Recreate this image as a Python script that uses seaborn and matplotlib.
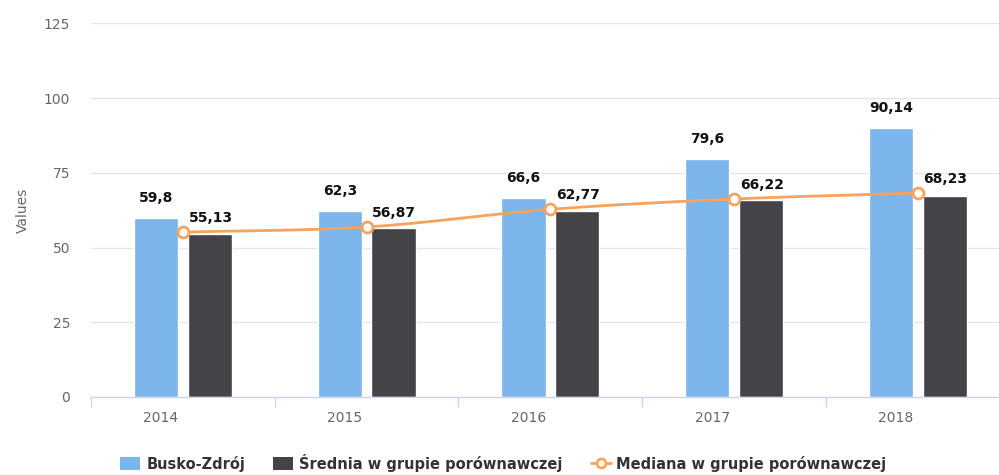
import numpy as np
import pandas as pd
import seaborn as sns
import matplotlib
matplotlib.use("Agg")
import matplotlib.pyplot as plt
from matplotlib.patches import Patch
from matplotlib.lines import Line2D

# ---- data ----
years = ["2014", "2015", "2016", "2017", "2018"]
busko = [59.8, 62.3, 66.6, 79.6, 90.14]
srednia = [54.6, 56.4, 62.1, 65.8, 67.4]
mediana = [55.13, 56.87, 62.77, 66.22, 68.23]
series_names = ["Busko-Zdrój", "Średnia w grupie porównawczej", "Mediana w grupie porównawczej"]
yticks = [0, 25, 50, 75, 100, 125]
y_title = "Values"

C_BLUE = "#7cb5ec"
C_DARK = "#434348"
C_ORANGE = "#f7a35c"

sns.set_theme(style="white")
plt.rcParams["font.family"] = ["DejaVu Sans"]

fig = plt.figure(figsize=(9.99, 4.75), dpi=100)
ax = fig.add_axes([91 / 999, 78 / 475, 908 / 999, 373.7 / 475])

df = pd.DataFrame({
    "year": years * 2,
    "value": busko + srednia,
    "series": [series_names[0]] * len(years) + [series_names[1]] * len(years),
})
sns.barplot(data=df, x="year", y="value", hue="series", palette=[C_BLUE, C_DARK],
            width=0.584, gap=0.178, saturation=1, errorbar=None, legend=False,
            ax=ax, zorder=2)

# smooth (spline-like) median line
xp = np.arange(len(mediana), dtype=float)
yp = np.array(mediana, dtype=float)
m = np.zeros_like(yp)
m[1:-1] = (yp[2:] - yp[:-2]) / 2.0
m[0] = yp[1] - yp[0]
m[-1] = yp[-1] - yp[-2]
xs_all, ys_all = [], []
for i in range(len(xp) - 1):
    t = np.linspace(0, 1, 30)
    h00 = 2 * t**3 - 3 * t**2 + 1
    h10 = t**3 - 2 * t**2 + t
    h01 = -2 * t**3 + 3 * t**2
    h11 = t**3 - t**2
    xs_all.append(xp[i] + t)
    ys_all.append(h00 * yp[i] + h10 * m[i] + h01 * yp[i + 1] + h11 * m[i + 1])
ax.plot(np.concatenate(xs_all), np.concatenate(ys_all), color=C_ORANGE, lw=2, zorder=4)
sns.scatterplot(x=xp, y=yp, ax=ax, marker="o", s=62, facecolor="white",
                edgecolor=C_ORANGE, linewidth=2, zorder=5)

# data labels
fmt = lambda v: str(v).replace(".", ",")
for i, v in enumerate(busko):
    ax.annotate(fmt(v), xy=(i - 0.146, v), xytext=(0, 11.5), textcoords="offset points",
                ha="center", va="baseline", fontsize=10, fontweight="bold", color="#111111", zorder=6)
for i, v in enumerate(mediana):
    ax.annotate(fmt(v), xy=(i, v), xytext=(4, 7.5), textcoords="offset points",
                ha="left", va="baseline", fontsize=10, fontweight="bold", color="#111111", zorder=6)

# axes styling
ax.set_xlim(-0.5, -0.5 + 908 / 183.75)
ax.set_ylim(0, 125)
ax.set_yticks(yticks)
ax.set_yticklabels([str(t) for t in yticks])
ax.tick_params(axis="y", length=0, pad=15, labelsize=10, labelcolor="#666666")
ax.yaxis.grid(True, color="#e6e6e6", lw=1)
ax.xaxis.grid(False)
ax.set_axisbelow(True)

ax.set_xticks([i - 0.12 for i in range(len(years))])
ax.set_xticklabels(years)
ax.set_xticks([i + 0.5 for i in range(-1, len(years) - 1)], minor=True)
ax.tick_params(axis="x", which="major", length=0, pad=10, labelsize=10, labelcolor="#666666")
ax.tick_params(axis="x", which="minor", length=7.2, width=1, color="#ccd6eb", bottom=True)
ax.set_xlabel("")

for s in ["top", "right", "left"]:
    ax.spines[s].set_visible(False)
ax.spines["bottom"].set_color("#ccd6eb")
ax.spines["bottom"].set_linewidth(1)

ax.set_ylabel(y_title, color="#666666", fontsize=10)
ax.yaxis.set_label_coords(-0.067, 0.5)

handles = [
    Patch(facecolor=C_BLUE, edgecolor="none"),
    Patch(facecolor=C_DARK, edgecolor="none"),
    Line2D([0], [0], color=C_ORANGE, lw=2, marker="o", markerfacecolor="white",
           markeredgecolor=C_ORANGE, markersize=6.5, markeredgewidth=2),
]
fig.legend(handles, series_names, loc="center", bbox_to_anchor=(0.504, 0.026), ncol=3,
           frameon=False, prop={"size": 10.5, "weight": "bold"}, handlelength=1.37,
           handleheight=1.0, columnspacing=1.92, handletextpad=0.41, labelcolor="#333333")

fig.savefig("out.png", dpi=100)
